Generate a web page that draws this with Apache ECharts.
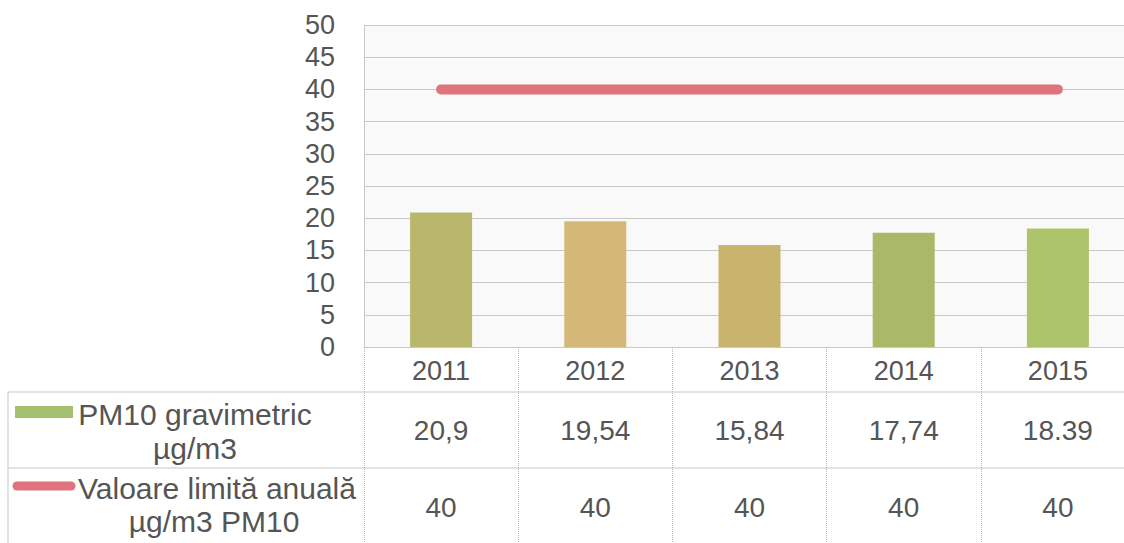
<!DOCTYPE html>
<html>
<head>
<meta charset="utf-8">
<script src="https://cdn.jsdelivr.net/npm/echarts@6/dist/echarts.min.js"></script>
<style>
  html, body { margin: 0; padding: 0; background: #fff; overflow: hidden; }
  /* plot area runs past the right edge of the window, as in the scan */
  #chart { width: 1136px; height: 543px; }
</style>
</head>
<body>
<div id="chart"></div>
<script>
const years = ["2011", "2012", "2013", "2014", "2015"];
const pm10 = [20.9, 19.54, 15.84, 17.74, 18.39];
const limit = [40, 40, 40, 40, 40];
const pm10Text = ["20,9", "19,54", "15,84", "17,74", "18.39"];
const limitText = ["40", "40", "40", "40", "40"];
const yTicks = [0, 5, 10, 15, 20, 25, 30, 35, 40, 45, 50];

// scanned bars drift from olive to green
const barColors = ["#b9b76c", "#d3b877", "#c9b46d", "#a9b968", "#adc46b"];
const textColor = "#555555";
const gridColor = "#c8c8c8";
const font = "Liberation Sans, Arial, sans-serif";

const chart = echarts.init(document.getElementById("chart"), null, { renderer: "svg" });

chart.setOption({
  animation: false,
  grid: {
    left: 364, top: 25, right: 1, bottom: 196,
    show: true, backgroundColor: "#f9f9f9", borderWidth: 0
  },
  xAxis: {
    type: "category",
    data: years,
    axisLine: { lineStyle: { color: gridColor, width: 1 } },
    axisTick: {
      show: true, interval: 0, length: 200,
      lineStyle: { color: "#b8b8b8", type: "dotted", width: 1 }
    },
    axisLabel: { fontSize: 27, color: textColor, fontFamily: font, margin: 10 }
  },
  yAxis: {
    type: "value",
    min: yTicks[0],
    max: yTicks[yTicks.length - 1],
    interval: 5,
    axisLine: { show: true, lineStyle: { color: gridColor } },
    axisTick: { show: false },
    axisLabel: { fontSize: 27, color: textColor, fontFamily: font, margin: 29 },
    splitLine: { lineStyle: { color: gridColor, width: 1 } }
  },
  series: [
    {
      name: "PM10 gravimetric µg/m3",
      type: "bar",
      data: pm10,
      barWidth: 62,
      itemStyle: { color: (p) => barColors[p.dataIndex] }
    },
    {
      name: "Valoare limită anuală µg/m3 PM10",
      type: "line",
      data: limit,
      symbol: "none",
      lineStyle: { color: "#e0737b", width: 10, cap: "round" }
    }
  ]
});

// data table under the axis
const centers = years.map((_, i) => chart.convertToPixel({ xAxisIndex: 0 }, i));
const txt = (x, y, s, size) => ({
  type: "text", x, y,
  style: {
    text: s, fill: textColor, font: size + "px " + font,
    textAlign: "center", textVerticalAlign: "middle"
  }
});
const hline = (y) => ({
  type: "line", shape: { x1: 8, y1: y, x2: 1136, y2: y },
  style: { stroke: gridColor, lineWidth: 1 }
});

const graphics = [
  hline(392),
  hline(468),
  { type: "line", shape: { x1: 8, y1: 392, x2: 8, y2: 543 }, style: { stroke: gridColor, lineWidth: 1 } },
  { type: "rect", shape: { x: 15, y: 406, width: 58, height: 12 }, style: { fill: "#a6bf6e" } },
  { type: "line", shape: { x1: 17, y1: 486, x2: 71, y2: 486 }, style: { stroke: "#e0737b", lineWidth: 9, lineCap: "round" } },
  txt(195, 414, "PM10 gravimetric", 30),
  txt(195, 448, "µg/m3", 30),
  txt(217, 488, "Valoare limită anuală", 30),
  txt(214, 521, "µg/m3 PM10", 30)
];
centers.forEach((cx, i) => {
  graphics.push(txt(cx, 430, pm10Text[i], 28));
  graphics.push(txt(cx, 507, limitText[i], 28));
});
chart.setOption({ graphic: graphics });
</script>
</body>
</html>
